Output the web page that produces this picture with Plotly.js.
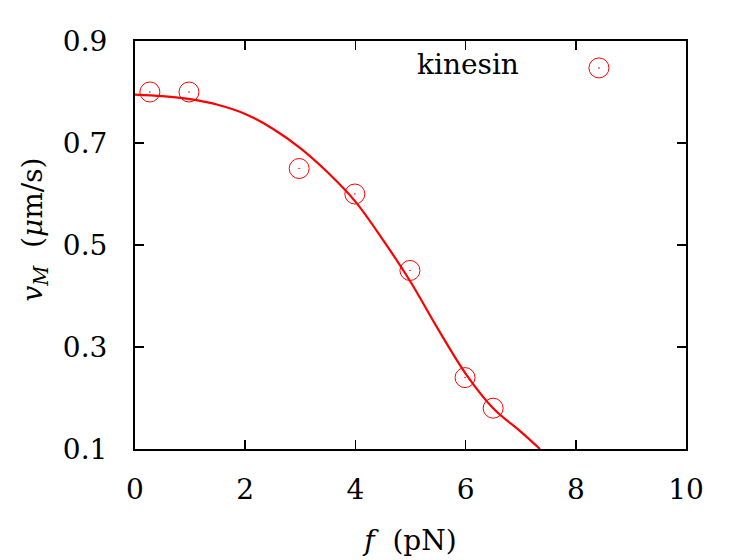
<!DOCTYPE html>
<html>
<head>
<meta charset="utf-8">
<script src="https://cdn.plot.ly/plotly-3.0.1.min.js"></script>
<style>html,body{margin:0;padding:0;background:#fff;}#chart{width:749px;height:560px;}</style>
</head>
<body>
<div id="chart"></div>
<script>
// measured data (kinesin)
var forceData = [0.27, 0.98, 2.98, 3.99, 4.99, 5.99, 6.50];
var velocityData = [0.80, 0.80, 0.65, 0.60, 0.45, 0.24, 0.18];
// fitted curve
var forceFit = [0, 0.5, 1, 1.5, 2, 2.5, 3, 3.5, 4, 4.5, 5, 5.5, 6, 6.5, 7, 7.35];
var velocityFit = [0.795, 0.792, 0.786, 0.775, 0.757, 0.728, 0.690, 0.642, 0.585, 0.510, 0.428, 0.335, 0.248, 0.180, 0.134, 0.100];
var xTicks = [0, 2, 4, 6, 8, 10];
var yTicks = [0.1, 0.3, 0.5, 0.7, 0.9];
var yTickText = ['0.1', '0.3', '0.5', '0.7', '0.9'];
var seriesName = 'kinesin';
var xTitle = '<i>f</i>  (pN)';
var yTitle = '<i>v</i><sub><i>M</i></sub>  (<i>μ</i>m/s)';

var font = 'DejaVu Serif';

var traces = [
  {
    x: forceFit, y: velocityFit, mode: 'lines', type: 'scatter',
    line: {color: '#ff0000', width: 2.2, shape: 'spline', smoothing: 1},
    showlegend: false, hoverinfo: 'skip'
  },
  {
    x: forceData, y: velocityData, mode: 'markers', type: 'scatter', name: seriesName,
    marker: {symbol: 'circle-open-dot', size: 20, color: '#ff0000', line: {width: 1, color: '#ff0000'}},
    showlegend: false
  }
];

// legend key drawn at the top right, text left of the symbol as in the reference
var keyX = 0.842, keyY = 0.934, rx = 0.0182, ry = 0.0245;

var layout = {
  width: 749, height: 560,
  margin: {l: 135, r: 63, t: 41, b: 111},
  paper_bgcolor: '#ffffff', plot_bgcolor: '#ffffff',
  font: {family: font, size: 28, color: '#000'},
  showlegend: false,
  annotations: [
    {
      xref: 'paper', yref: 'paper', x: 0.70, y: 0.942, xanchor: 'right', yanchor: 'middle',
      text: seriesName, showarrow: false, font: {family: font, size: 28, color: '#000'}
    },
    {
      xref: 'paper', yref: 'paper', x: -0.182, y: 0.537, xanchor: 'center', yanchor: 'middle',
      textangle: -90, text: yTitle, showarrow: false, font: {family: font, size: 28, color: '#000'}
    }
  ],
  shapes: [
    {type: 'circle', xref: 'paper', yref: 'paper', x0: keyX - rx, x1: keyX + rx, y0: keyY - ry, y1: keyY + ry,
     line: {color: '#ff0000', width: 1}, fillcolor: 'rgba(0,0,0,0)'},
    {type: 'circle', xref: 'paper', yref: 'paper', x0: keyX - 0.001, x1: keyX + 0.001, y0: keyY - 0.0013, y1: keyY + 0.0013,
     line: {color: '#ff0000', width: 0.5}, fillcolor: '#ff0000'}
  ],
  xaxis: {
    range: [0, 10], tickvals: xTicks, ticktext: xTicks.map(String),
    showgrid: false, zeroline: false,
    showline: true, linecolor: '#000', linewidth: 2, mirror: 'ticks',
    ticks: 'inside', ticklen: 9, tickwidth: 1.5, tickcolor: '#000',
    ticklabelstandoff: 14,
    tickfont: {family: font, size: 28, color: '#000'},
    title: {text: xTitle, font: {family: font, size: 28, color: '#000'}, standoff: 26},
    automargin: false
  },
  yaxis: {
    range: [0.1, 0.9], tickvals: yTicks, ticktext: yTickText,
    showgrid: false, zeroline: false,
    showline: true, linecolor: '#000', linewidth: 2, mirror: 'ticks',
    ticks: 'inside', ticklen: 9, tickwidth: 1.5, tickcolor: '#000',
    ticklabelstandoff: 20,
    tickfont: {family: font, size: 28, color: '#000'},
    automargin: false
  }
};

Plotly.newPlot('chart', traces, layout, {displayModeBar: false, staticPlot: true});
</script>
</body>
</html>
